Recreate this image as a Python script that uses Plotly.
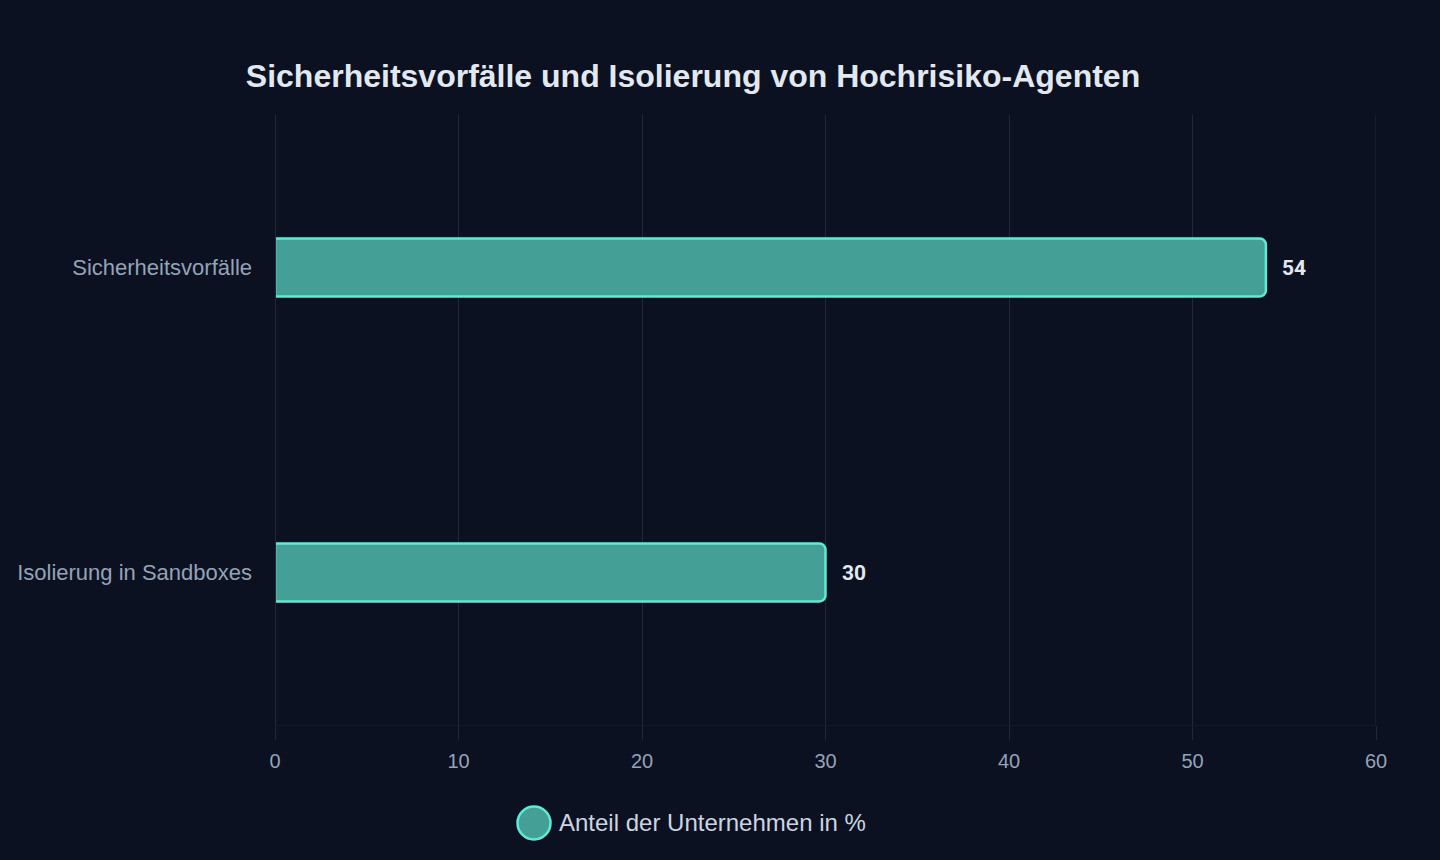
import plotly.graph_objects as go

categories = ["Sicherheitsvorfälle", "Isolierung in Sandboxes"]
values = [54, 30]
tick_vals = [0, 10, 20, 30, 40, 50, 60]
series_name = "Anteil der Unternehmen in %"
title_text = "Sicherheitsvorfälle und Isolierung von Hochrisiko-Agenten"

BG = "#0b1120"
FILL = "#44a096"
EDGE = "#5eead4"
GRID = "#212938"
FONT = "Arial, 'Liberation Sans', sans-serif"

fig = go.Figure()
fig.add_trace(go.Bar(
    x=values, y=categories, orientation="h",
    width=0.19,
    marker=dict(color=FILL, line=dict(color=EDGE, width=2.5), cornerradius=6),
    showlegend=False, hoverinfo="x+y",
))

for c, v in zip(categories, values):
    fig.add_annotation(x=v, y=c, xref="x", yref="y", text=f"<b>{v}</b>",
                       showarrow=False, xanchor="left", yanchor="middle",
                       xshift=14, font=dict(size=21, color="#e2e8f0", family="Roboto, " + FONT))

# gridline at zero drawn over the bar base (no left border on bars)
fig.add_shape(type="line", xref="x", yref="paper", x0=0, x1=0, y0=0, y1=1,
              line=dict(color=GRID, width=2), layer="above")
# gridline at the right edge
fig.add_shape(type="line", xref="x", yref="paper", x0=tick_vals[-1], x1=tick_vals[-1], y0=0, y1=1,
              line=dict(color=GRID, width=1), layer="below")

# manual legend
fig.add_shape(type="circle", xref="paper", yref="paper",
              xsizemode="pixel", ysizemode="pixel",
              xanchor=(534 - 275) / 1101, yanchor=(725 - 823) / 610,
              x0=-16.5, x1=16.5, y0=-16.5, y1=16.5,
              fillcolor=FILL, line=dict(color=EDGE, width=2.5))
fig.add_annotation(xref="paper", yref="paper", x=(557 - 275) / 1101, y=(725 - 822.5) / 610,
                   text=series_name, showarrow=False, xanchor="left", yanchor="middle",
                   font=dict(size=24, color="#cbd5e1", family=FONT))

fig.update_layout(
    width=1440, height=860,
    paper_bgcolor=BG, plot_bgcolor=BG,
    margin=dict(l=275, r=64, t=115, b=135),
    title=dict(text=f"<b>{title_text}</b>", x=693 / 1440, xanchor="center", xref="container",
               y=1 - 76 / 860, yanchor="middle", yref="container",
               font=dict(size=32, color="#e2e8f0", family=FONT)),
    font=dict(family=FONT),
    showlegend=False,
    xaxis=dict(range=[0, 60], tickvals=tick_vals, showgrid=True, gridcolor=GRID, gridwidth=1,
               zeroline=True, zerolinecolor=GRID, zerolinewidth=1,
               showline=True, linecolor="#131a28", linewidth=1,
               ticks="outside", ticklen=14, tickcolor=GRID,
               ticklabelstandoff=4,
               tickfont=dict(size=20, color="#94a3b8"), fixedrange=True),
    yaxis=dict(autorange="reversed", showgrid=False, zeroline=False, showline=False, ticks="",
               ticklabelstandoff=22, tickfont=dict(size=22, color="#94a3b8")),
)

fig.write_html("out.html")
